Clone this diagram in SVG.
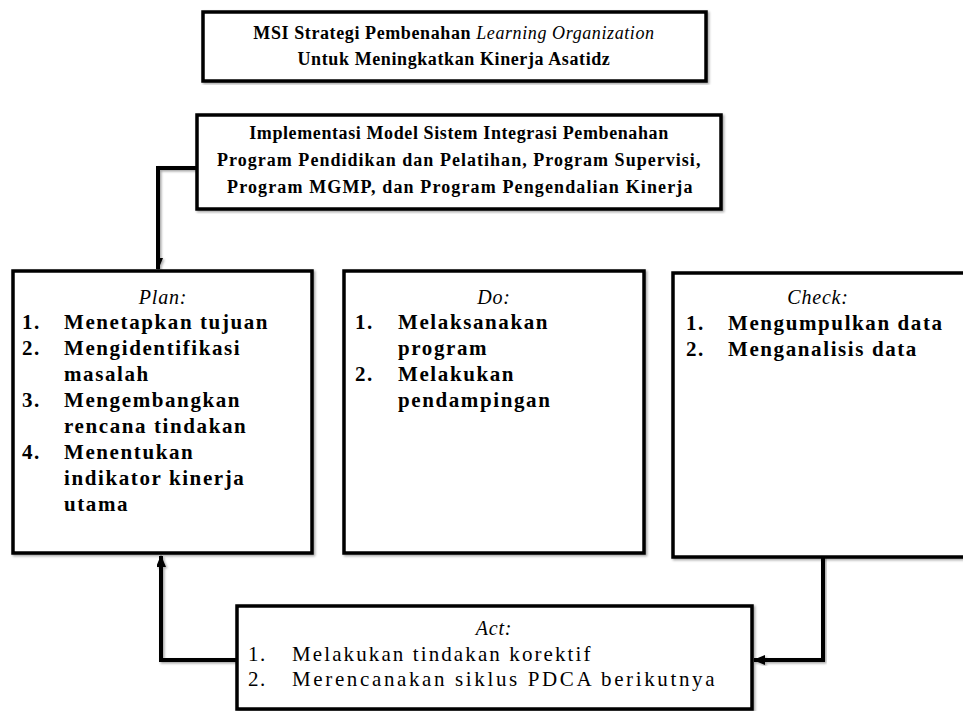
<svg xmlns="http://www.w3.org/2000/svg" width="963" height="711" viewBox="0 0 963 711">
<defs>
<filter id="sh" x="-5%" y="-5%" width="110%" height="110%">
<feDropShadow dx="1.5" dy="1.5" stdDeviation="1" flood-color="#000" flood-opacity="0.35"/>
</filter>
<marker id="ah" markerUnits="userSpaceOnUse" markerWidth="12" markerHeight="12" viewBox="0 0 12 12" refX="11" refY="6" orient="auto">
<path d="M0,1 L12,6 L0,11 Z" fill="#000"/>
</marker>
</defs>
<style>
.box{fill:#fff;stroke:#000;stroke-width:3.5;filter:url(#sh)}
.t{font-family:"Liberation Serif","Times New Roman",serif;font-weight:bold;font-size:18px;letter-spacing:0.6px;fill:#000}
.it{font-style:italic;font-weight:normal}
.h{font-family:"Liberation Serif","Times New Roman",serif;font-style:italic;font-size:20px;fill:#000;letter-spacing:0.8px}
.li{font-family:"Liberation Serif","Times New Roman",serif;font-weight:bold;font-size:21px;letter-spacing:1.6px;fill:#000}
.ln{font-family:"Liberation Serif","Times New Roman",serif;font-size:21px;letter-spacing:1.5px;fill:#000}
.c{fill:none;stroke:#000;stroke-width:4;filter:url(#sh)}
</style>
<rect width="963" height="711" fill="#fff"/>

<g id="connectors">
<path class="c" d="M518,81 L518,112" marker-end="url(#ah)"/>
<path class="c" d="M197,168 L158,168 L158,269" marker-end="url(#ah)"/>
<path class="c" d="M312,369 L342,369" marker-end="url(#ah)"/>
<path class="c" d="M644,372 L671,372" marker-end="url(#ah)"/>
<path class="c" d="M823,557 L823,660 L754,660" marker-end="url(#ah)"/>
<path class="c" d="M237,660 L161,660 L161,556" marker-end="url(#ah)"/>
</g>

<g id="node-msi">
<rect class="box" x="203" y="12" width="503" height="69"/>
<text class="t" x="454" y="39" text-anchor="middle">MSI Strategi Pembenahan <tspan class="it">Learning Organization</tspan></text>
<text class="t" x="454" y="65" text-anchor="middle">Untuk Meningkatkan Kinerja Asatidz</text>
</g>

<g id="node-impl">
<rect class="box" x="197" y="115" width="524" height="94"/>
<text class="t" x="459" y="139" text-anchor="middle">Implementasi Model Sistem Integrasi Pembenahan</text>
<text class="t" x="459" y="166" text-anchor="middle" textLength="484">Program Pendidikan dan Pelatihan, Program Supervisi,</text>
<text class="t" x="460" y="193" text-anchor="middle" textLength="466">Program MGMP, dan Program Pengendalian Kinerja</text>
</g>

<g id="node-plan">
<rect class="box" x="13" y="271" width="299" height="282"/>
<text class="h" x="163" y="304" text-anchor="middle">Plan:</text>
<text class="li" x="22" y="329">1.</text><text class="li" x="64" y="329">Menetapkan tujuan</text>
<text class="li" x="22" y="355">2.</text><text class="li" x="64" y="355">Mengidentifikasi</text>
<text class="li" x="64" y="381">masalah</text>
<text class="li" x="22" y="407">3.</text><text class="li" x="64" y="407">Mengembangkan</text>
<text class="li" x="64" y="433">rencana tindakan</text>
<text class="li" x="22" y="459">4.</text><text class="li" x="64" y="459">Menentukan</text>
<text class="li" x="64" y="485">indikator kinerja</text>
<text class="li" x="64" y="511">utama</text>
</g>

<g id="node-do">
<rect class="box" x="344" y="271" width="300" height="282"/>
<text class="h" x="494" y="304" text-anchor="middle">Do:</text>
<text class="li" x="355" y="329">1.</text><text class="li" x="398" y="329">Melaksanakan</text>
<text class="li" x="398" y="355">program</text>
<text class="li" x="355" y="381">2.</text><text class="li" x="398" y="381">Melakukan</text>
<text class="li" x="398" y="407">pendampingan</text>
</g>

<g id="node-check">
<rect class="box" x="673" y="273" width="296" height="284"/>
<text class="h" x="818" y="304" text-anchor="middle">Check:</text>
<text class="li" x="686" y="330">1.</text><text class="li" x="728" y="330">Mengumpulkan data</text>
<text class="li" x="686" y="356">2.</text><text class="li" x="728" y="356">Menganalisis data</text>
</g>

<g id="node-act">
<rect class="box" x="237" y="606" width="515" height="103"/>
<text class="h" x="494" y="635" text-anchor="middle">Act:</text>
<text class="ln" x="248" y="661">1.</text><text class="ln" x="292" y="661" textLength="300">Melakukan tindakan korektif</text>
<text class="ln" x="248" y="686">2.</text><text class="ln" x="292" y="686" textLength="424">Merencanakan siklus PDCA berikutnya</text>
</g>
</svg>
